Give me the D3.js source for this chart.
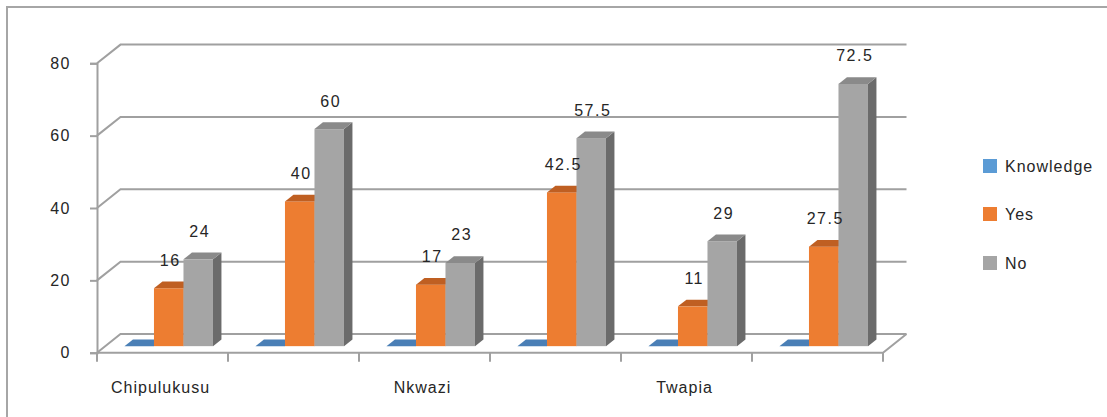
<!DOCTYPE html>
<html>
<head>
<meta charset="utf-8">
<script src="https://cdn.jsdelivr.net/npm/d3@7"></script>
<style>
  html, body { margin: 0; padding: 0; background: #fff; }
  svg { display: block; }
  text { font-family: "Liberation Sans", Arial, sans-serif; fill: #262626; }
</style>
</head>
<body>
<svg id="chart" width="1107" height="417"></svg>
<script>
// Each town has a count column (out of 40) followed by a percentage column.
const categories = ["Chipulukusu (n)", "Chipulukusu (%)", "Nkwazi (n)", "Nkwazi (%)", "Twapia (n)", "Twapia (%)"];
const categoryLabels = ["Chipulukusu", "", "Nkwazi", "", "Twapia", ""];
const seriesNames = ["Knowledge", "Yes", "No"];
const knowledgeValues = [0, 0, 0, 0, 0, 0];
const yesValues = [16, 40, 17, 42.5, 11, 27.5];
const noValues = [24, 60, 23, 57.5, 29, 72.5];
const yTicks = [0, 20, 40, 60, 80];

const seriesValues = [knowledgeValues, yesValues, noValues];
const colors = {
  Knowledge: { front: "#5b9bd5", top: "#4a7fb6", side: "#3f6e9e" },
  Yes:       { front: "#ed7d31", top: "#bf5f22", side: "#a9521c" },
  No:        { front: "#a5a5a5", top: "#8a8a8a", side: "#6b6b6b" }
};

const svg = d3.select("#chart");

// Outer chart frame
svg.append("rect")
  .attr("x", 7).attr("y", 7).attr("width", 1120).attr("height", 430)
  .attr("fill", "none").attr("stroke", "#a6a6a6").attr("stroke-width", 2);

// Plot geometry: front plane + depth vector of the 3D box
const plotLeft = 97, plotRight = 883;
const depth = { dx: 23.5, dy: -18.7 };
const barDepthStart = 0.35, barDepthEnd = 0.71;

const y = d3.scaleLinear().domain([0, 80]).range([352.7, 63.3]);
const x0 = d3.scaleBand().domain(categories).range([plotLeft, plotRight]).padding(0);
const x1 = d3.scaleBand().domain(seriesNames).range([-2, x0.bandwidth() - 2])
  .paddingInner(0).paddingOuter(0.72);

const gridColor = "#a0a0a0";
const grid = svg.append("g").attr("fill", "none").attr("stroke", gridColor).attr("stroke-width", 2);

// Side wall diagonals and back wall gridlines
yTicks.forEach(t => {
  const yy = y(t);
  grid.append("path")
    .attr("d", `M${plotLeft},${yy}L${plotLeft + depth.dx},${yy + depth.dy}L${plotRight + depth.dx},${yy + depth.dy}`);
});
// Floor front edge and right edge
grid.append("path")
  .attr("d", `M${plotLeft},${y(0)}L${plotRight},${y(0)}L${plotRight + depth.dx},${y(0) + depth.dy}`);

// Value axis
const yAxis = svg.append("g")
  .attr("transform", `translate(${plotLeft},0)`)
  .call(d3.axisLeft(y).tickValues(yTicks).tickSize(7).tickPadding(19).tickFormat(d3.format("d")));
yAxis.select(".domain").attr("stroke", gridColor).attr("stroke-width", 2);
yAxis.selectAll(".tick line").attr("stroke", gridColor).attr("stroke-width", 2);
yAxis.selectAll(".tick text")
  .style("font-family", "'Liberation Sans', Arial, sans-serif")
  .style("font-size", "16px").style("letter-spacing", "1.5px")
  .attr("fill", "#262626");

// Category axis ticks at band edges
const edges = categories.map(c => x0(c)).concat([plotRight]);
svg.append("g").selectAll("line").data(edges).join("line")
  .attr("x1", d => d).attr("x2", d => d)
  .attr("y1", y(0)).attr("y2", y(0) + 9)
  .attr("stroke", gridColor).attr("stroke-width", 2);

// Category labels
svg.append("g").selectAll("text").data(categories).join("text")
  .attr("x", c => x0(c) + x0.bandwidth() / 2 - 2)
  .attr("y", 387)
  .attr("text-anchor", "middle")
  .attr("dominant-baseline", "central")
  .style("font-size", "16px").style("letter-spacing", "1px")
  .text((c, i) => categoryLabels[i]);

// 3D columns
const ox = barDepthStart * depth.dx, oy = barDepthStart * depth.dy;
const ddx = (barDepthEnd - barDepthStart) * depth.dx;
const ddy = (barDepthEnd - barDepthStart) * depth.dy;
const bw = x1.bandwidth();

const bars = [];
categories.forEach((c, ci) => {
  seriesNames.forEach((s, si) => {
    bars.push({ c, s, v: seriesValues[si][ci] });
  });
});

const barG = svg.append("g");
bars.forEach(b => {
  const xl = x0(b.c) + x1(b.s) + ox;
  const yt = y(b.v) + oy;
  const yb = y(0) + oy;
  const col = colors[b.s];
  const g = barG.append("g");
  // side face
  g.append("path")
    .attr("d", `M${xl + bw},${yt}L${xl + bw + ddx},${yt + ddy}L${xl + bw + ddx},${yb + ddy}L${xl + bw},${yb}Z`)
    .attr("fill", col.side);
  // front face
  g.append("rect")
    .attr("x", xl).attr("y", yt).attr("width", bw).attr("height", Math.max(0, yb - yt))
    .attr("fill", col.front);
  // top face
  g.append("path")
    .attr("d", `M${xl},${yt}L${xl + bw},${yt}L${xl + bw + ddx},${yt + ddy}L${xl + ddx},${yt + ddy}Z`)
    .attr("fill", col.top);
});

// Value labels for Yes / No columns
svg.append("g").selectAll("text")
  .data(bars.filter(b => b.s !== "Knowledge"))
  .join("text")
  .attr("x", b => x0(b.c) + x1(b.s) + ox + bw / 2 + 1.5)
  .attr("y", b => y(b.v) + oy - 28)
  .attr("text-anchor", "middle")
  .attr("dominant-baseline", "central")
  .style("font-size", "16px").style("letter-spacing", "1.5px")
  .text(b => d3.format("")(b.v));

// Legend
const legendY = [166, 214, 263];
const legend = svg.append("g");
seriesNames.forEach((s, i) => {
  legend.append("rect")
    .attr("x", 983).attr("y", legendY[i] - 7).attr("width", 14).attr("height", 14)
    .attr("fill", colors[s].front);
  legend.append("text")
    .attr("x", 1005).attr("y", legendY[i])
    .attr("dominant-baseline", "central")
    .style("font-size", "16px").style("letter-spacing", "1px")
    .text(s);
});
</script>
</body>
</html>
